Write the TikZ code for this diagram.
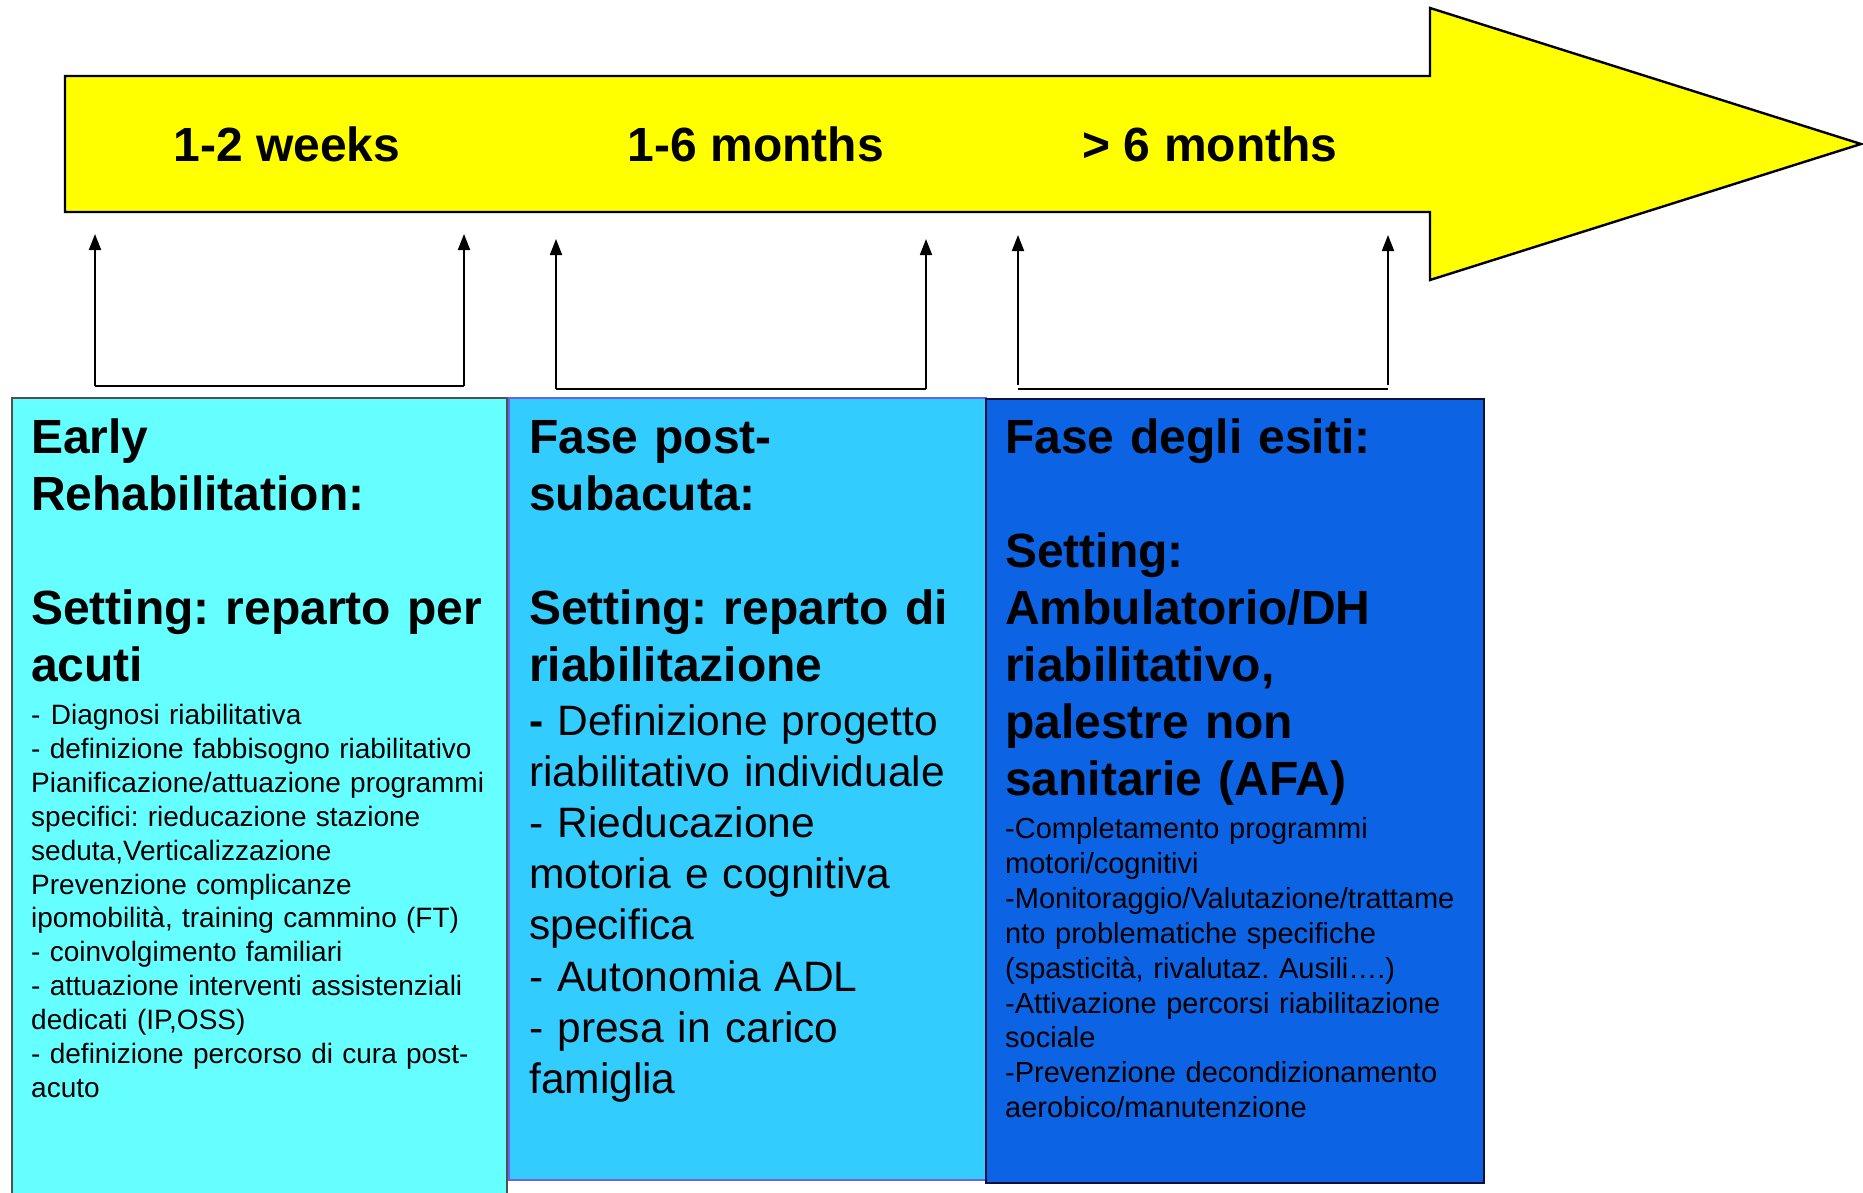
\documentclass[tikz,border=0pt]{standalone}
\usepackage{fontspec}
\setmainfont{Liberation Sans}
\usetikzlibrary{arrows.meta}

\definecolor{timeyellow}{HTML}{FFFF00}
\definecolor{acutefill}{HTML}{66FFFF}
\definecolor{acuteedge}{HTML}{505050}
\definecolor{postfill}{HTML}{33CCFF}
\definecolor{postedge}{HTML}{6464F0}
\definecolor{outcomefill}{HTML}{0C63E3}
\definecolor{outcomeedge}{HTML}{10103C}

\frenchspacing
\begin{document}
\begin{tikzpicture}[x=1pt,y=-1pt,
  phasebox/.style={line width=2pt, anchor=north west, inner sep=0pt},
  period/.style={anchor=base, inner sep=0pt, font=\fontsize{48}{57}\selectfont\bfseries},
  heading/.style={anchor=base west, inner sep=0pt, text width=470pt, align=left,
                  font=\fontsize{48}{57}\selectfont\bfseries\frenchspacing},
  smallbody/.style={anchor=base west, inner sep=0pt, text width=470pt, align=left,
                    font=\fontsize{28}{33.9}\selectfont\frenchspacing},
  outcomebody/.style={anchor=base west, inner sep=0pt, text width=470pt, align=left,
                      font=\fontsize{29}{34.9}\selectfont\frenchspacing},
  largebody/.style={anchor=base west, inner sep=0pt, text width=470pt, align=left,
                    font=\fontsize{42.5}{51.1}\selectfont\frenchspacing},
  link/.style={line width=1.8pt, -{Triangle[length=16pt,width=12pt]}},
  rail/.style={line width=2.6pt}
]
\useasboundingbox (0,0) rectangle (1863,1193);

% time line arrow
\draw[line width=2.4pt, fill=timeyellow, line join=miter]
  (65,76) -- (1430,76) -- (1430,8) -- (1861,144) -- (1430,280) -- (1430,212) -- (65,212) -- cycle;

\node[period] (wk)  at (287,162)  {1-2 weeks};
\node[period] (mo)  at (756,162)  {1-6 months};
\node[period] (gt)  at (1210,162) {> 6 months};

% brackets pointing up to the time line
\coordinate (a1) at (95,386);   \coordinate (a2) at (464,386);
\coordinate (a1t) at (95,234);  \coordinate (a2t) at (464,234);
\coordinate (b1) at (556,389);  \coordinate (b2) at (926,389);
\coordinate (b1t) at (556,239); \coordinate (b2t) at (926,239);
\coordinate (c1) at (1018,385); \coordinate (c2) at (1388,385);
\coordinate (c1t) at (1018,235);\coordinate (c2t) at (1388,235);
\coordinate (c1r) at (1018,389);\coordinate (c2r) at (1388,389);

\draw[rail] (a1) -- (a2);
\draw[link] (a1) -- (a1t);
\draw[link] (a2) -- (a2t);
\draw[rail] (b1) -- (b2);
\draw[link] (b1) -- (b1t);
\draw[link] (b2) -- (b2t);
\draw[rail] (c1r) -- (c2r);
\draw[link] (c1) -- (c1t);
\draw[link] (c2) -- (c2t);

% phase boxes
\node[phasebox, fill=acutefill, draw=acuteedge, minimum width=495pt, minimum height=800pt]
  (acute) at (11,397) {};
\node[phasebox, fill=postfill, draw=postedge, minimum width=477pt, minimum height=782pt]
  (post) at (508,397) {};
\node[phasebox, fill=outcomefill, draw=outcomeedge, minimum width=498pt, minimum height=784pt]
  (outcome) at (985,398) {};

% early rehabilitation
\node[heading] (acuteh) at (31,453.5)
  {Early\\Rehabilitation:\\\mbox{}\\Setting: reparto per\\acuti};
\node[smallbody] (acutet) at (31,724.5)
  {-\hspace{0.37em}Diagnosi riabilitativa\\
   - definizione fabbisogno riabilitativo\\
   Pianificazione/attuazione programmi\\
   specifici: rieducazione stazione\\
   seduta,Verticalizzazione\\
   Prevenzione complicanze\\
   ipomobilità, training cammino (FT)\\
   - coinvolgimento familiari\\
   - attuazione interventi assistenziali\\
   dedicati (IP,OSS)\\
   - definizione percorso di cura post-\\
   acuto};

% post-acute phase
\node[heading] (posth) at (529,453.5)
  {Fase post-\\subacuta:\\\mbox{}\\Setting: reparto di\\riabilitazione};
\node[largebody] (postt) at (529,735.5)
  {\textbf{-} Definizione progetto\\
   riabilitativo individuale\\
   - Rieducazione\\
   motoria e cognitiva\\
   specifica\\
   - Autonomia ADL\\
   - presa in carico\\
   famiglia};

% outcome phase
\node[heading] (outh) at (1005,453.5)
  {Fase degli esiti:\\\mbox{}\\Setting:\\Ambulatorio/DH\\riabilitativo,\\palestre non\\sanitarie (AFA)};
\node[outcomebody] (outt) at (1005,838.5)
  {-Completamento programmi\\
   motori/cognitivi\\
   -Monitoraggio/Valutazione/trattame\\
   nto problematiche specifiche\\
   (spasticità, rivalutaz. Ausili….)\\
   -Attivazione percorsi riabilitazione\\
   sociale\\
   -Prevenzione decondizionamento\\
   aerobico/manutenzione};
\end{tikzpicture}
\end{document}
